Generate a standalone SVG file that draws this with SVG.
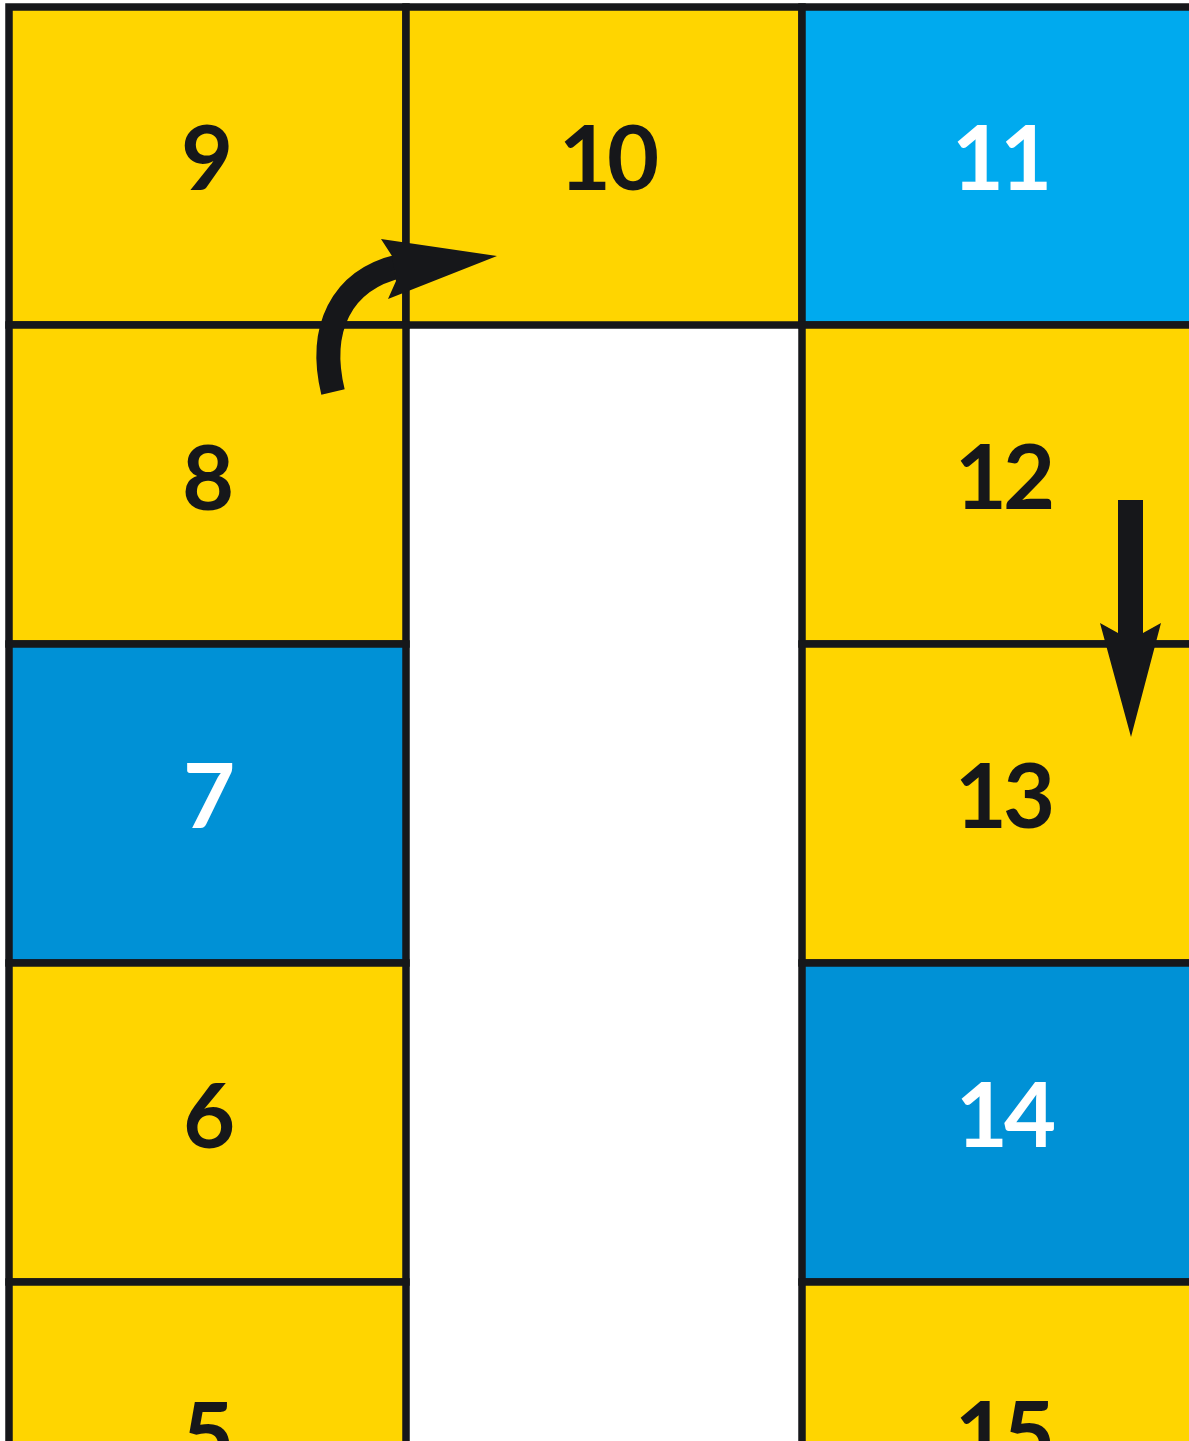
<svg xmlns="http://www.w3.org/2000/svg" width="1189" height="1441" viewBox="0 0 1189 1441">
<style>
.cell{stroke:#16171a;stroke-width:7.5}
.y{fill:#ffd500}
.lb{fill:#00aaee}
.db{fill:#0091d6}
.num{font-family:Lato,"DejaVu Sans",sans-serif;font-weight:700;font-size:90px;text-anchor:middle}
.two{letter-spacing:-4px}
.dk{fill:#16171a}
.wt{fill:#ffffff}
.arrow{fill:#16171a}
</style>
<rect x="0" y="0" width="1189" height="1441" fill="#ffffff"/>
<g id="cell-9"><rect class="cell y" x="9" y="7" width="397" height="318"/><text class="num dk" x="207" y="190">9</text></g>
<g id="cell-10"><rect class="cell y" x="406" y="7" width="396" height="318"/><text class="num two dk" x="607" y="190">10</text></g>
<g id="cell-11"><rect class="cell lb" x="802" y="7" width="400" height="318"/><text class="num two wt" x="1000" y="190">11</text></g>
<g id="cell-8"><rect class="cell y" x="9" y="325" width="397" height="319"/><text class="num dk" x="208" y="510">8</text></g>
<g id="cell-12"><rect class="cell y" x="802" y="325" width="400" height="319"/><text class="num two dk" x="1003" y="509">12</text></g>
<g id="cell-7"><rect class="cell db" x="9" y="644" width="397" height="319"/><text class="num wt" x="209" y="828">7</text></g>
<g id="cell-13"><rect class="cell y" x="802" y="644" width="400" height="319"/><text class="num two dk" x="1003" y="828">13</text></g>
<g id="cell-6"><rect class="cell y" x="9" y="963" width="397" height="319"/><text class="num dk" x="209" y="1148">6</text></g>
<g id="cell-14"><rect class="cell db" x="802" y="963" width="400" height="319"/><text class="num two wt" x="1004" y="1147">14</text></g>
<g id="cell-5"><rect class="cell y" x="9" y="1282" width="397" height="319"/><text class="num dk" x="208" y="1467">5</text></g>
<g id="cell-15"><rect class="cell y" x="802" y="1282" width="400" height="319"/><text class="num two dk" x="1003" y="1466">15</text></g>
<g id="connectors">
<path d="M333,392 C318,330 340,280 400,266" fill="none" stroke="#16171a" stroke-width="24"/>
<polygon class="arrow" points="381,239 497,256 388,299 396,281 392,256"/>
<polygon class="arrow" points="1118,500 1143,500 1143,633 1161,623 1131,737 1100,623 1118,633"/>
</g>
</svg>
